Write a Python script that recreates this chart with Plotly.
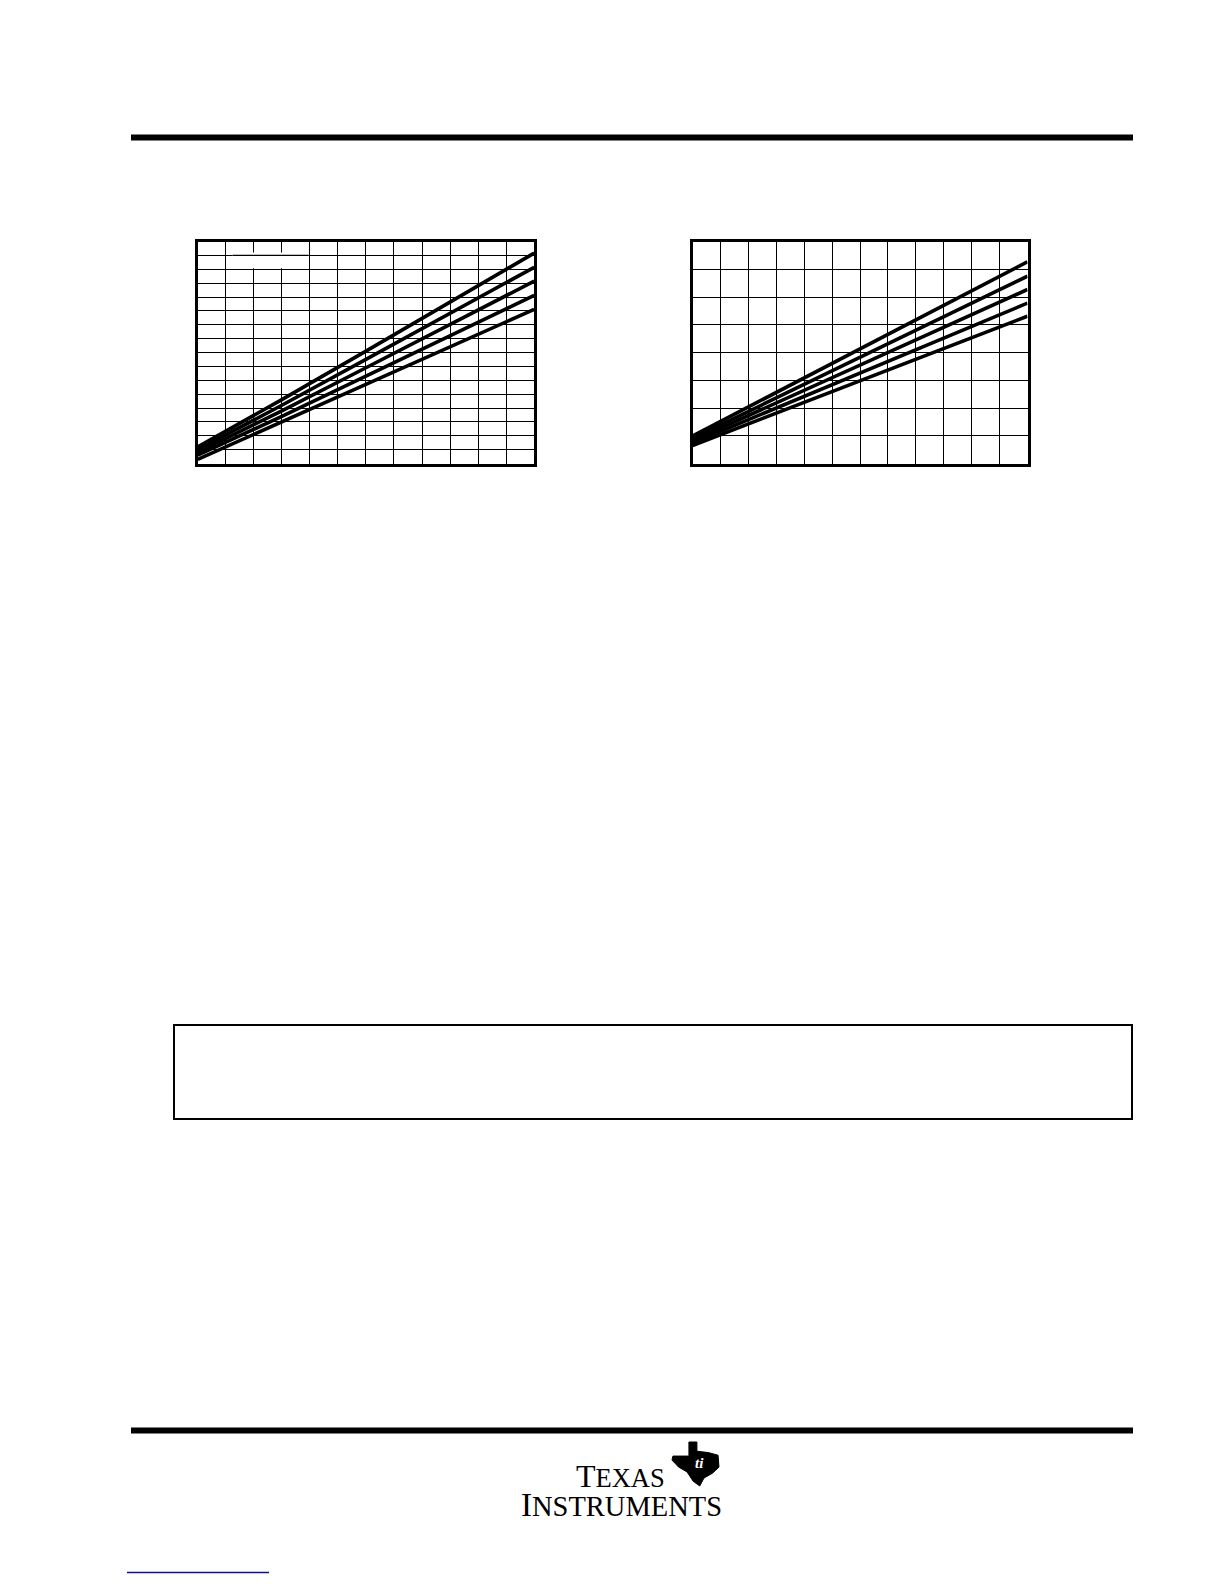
import plotly.graph_objects as go

# page offset: the browser places the figure 8px from the top-left corner
OFF = 8
W, H = 1224 - OFF, 1584 - OFF

# ---------------- data ----------------
x_pts = [0, 3, 6, 9, 12]

left_series = {
    "L1": [1.2, 4.6, 8.1, 11.6, 15.17],
    "L2": [1.0, 4.2, 7.5, 10.8, 14.14],
    "L3": [0.8, 3.8, 6.9, 10.0, 13.14],
    "L4": [0.6, 3.4, 6.3, 9.2, 12.11],
    "L5": [0.3, 3.0, 5.7, 8.4, 11.11],
}
right_series = {
    "R1": [0.99, 2.56, 4.13, 5.70, 7.27],
    "R2": [0.90, 2.37, 3.83, 5.29, 6.75],
    "R3": [0.82, 2.19, 3.55, 4.91, 6.27],
    "R4": [0.74, 2.00, 3.26, 4.52, 5.78],
    "R5": [0.65, 1.82, 2.98, 4.15, 5.31],
}
left_x_range = [0, 12]
left_y_range = [0, 16]
right_x_range = [0, 12]
right_y_range = [0, 8]


def px_x(p):
    return (p - OFF) / W


def px_y(p):
    return 1 - (p - OFF) / H


fig = go.Figure()

for name, ys in left_series.items():
    fig.add_trace(go.Scatter(x=x_pts, y=ys, mode="lines", name=name,
                             line=dict(color="black", width=3.6),
                             xaxis="x", yaxis="y", showlegend=False))
for name, ys in right_series.items():
    fig.add_trace(go.Scatter(x=x_pts, y=ys, mode="lines", name=name,
                             line=dict(color="black", width=3.6),
                             xaxis="x2", yaxis="y2", showlegend=False))

ax_common = dict(showline=True, mirror=True, linecolor="black", linewidth=3,
                 showgrid=True, gridcolor="black", gridwidth=1.3,
                 zeroline=False, showticklabels=False, ticks="",
                 dtick=1, tick0=0, fixedrange=True)

ytop, ybot = 241.5, 463.5
fig.update_layout(
    width=W, height=H,
    margin=dict(l=0, r=0, t=0, b=0),
    paper_bgcolor="white", plot_bgcolor="white",
    showlegend=False,
    xaxis=dict(domain=[px_x(197.7), px_x(534.2)], range=left_x_range,
               anchor="y", **ax_common),
    yaxis=dict(domain=[px_y(ybot), px_y(ytop)], range=left_y_range,
               anchor="x", **ax_common),
    xaxis2=dict(domain=[px_x(692.5), px_x(1027.5)], range=right_x_range,
                anchor="y2", **ax_common),
    yaxis2=dict(domain=[px_y(ybot), px_y(ytop)], range=right_y_range,
                anchor="x2", **ax_common),
)

shapes = []
# blank legend box inside left chart
shapes.append(dict(type="rect", xref="x", yref="y", x0=1.24, x1=3.96,
                   y0=14.08, y1=15.2, fillcolor="white",
                   line=dict(width=0), layer="above"))
shapes.append(dict(type="line", xref="x", yref="y", x0=1.24, x1=3.96,
                   y0=15, y1=15, line=dict(color="black", width=1.3),
                   layer="above"))


def prect(x0, y0, x1, y1, **kw):
    d = dict(type="rect", xref="paper", yref="paper",
             x0=px_x(x0), x1=px_x(x1), y0=px_y(y1), y1=px_y(y0))
    d.update(kw)
    return d


# header / footer bars
shapes.append(prect(131, 134.5, 1133, 140.5, fillcolor="black",
                    line=dict(width=0)))
shapes.append(prect(131, 1427.5, 1133, 1433.5, fillcolor="black",
                    line=dict(width=0)))
# empty notice box
shapes.append(prect(174, 1025, 1132, 1119, fillcolor="rgba(0,0,0,0)",
                    line=dict(color="black", width=2)))
# link underline
shapes.append(dict(type="line", xref="paper", yref="paper",
                   x0=px_x(127), x1=px_x(269), y0=px_y(1572.5),
                   y1=px_y(1572.5), line=dict(color="#10108a", width=1.5)))

# Texas-state silhouette for logo
outline = [(0.36, 0), (0.53, 0), (0.53, 0.21), (0.77, 0.24), (0.98, 0.30),
           (1.0, 0.57), (0.86, 0.71), (0.68, 0.82), (0.59, 1.0), (0.45, 0.89),
           (0.32, 0.68), (0.14, 0.57), (0.0, 0.41), (0.02, 0.32), (0.36, 0.32)]
bx0, bx1, by0, by1 = 672, 719, 1442, 1486
pts = [(px_x(bx0 + u * (bx1 - bx0)), px_y(by0 + v * (by1 - by0)))
       for u, v in outline]
path = "M " + " L ".join(f"{a:.5f},{b:.5f}" for a, b in pts) + " Z"
shapes.append(dict(type="path", xref="paper", yref="paper", path=path,
                   fillcolor="black", line=dict(color="black", width=1)))

fig.update_layout(shapes=shapes)

serif = "Liberation Serif, Times New Roman, serif"
annotations = [
    dict(x=px_x(574), y=px_y(1496), xref="paper", yref="paper",
         xanchor="left", yanchor="bottom", showarrow=False,
         text='<span style="font-size:32px">T</span>EXAS',
         font=dict(family=serif, size=26.5, color="black")),
    dict(x=px_x(519), y=px_y(1525), xref="paper", yref="paper",
         xanchor="left", yanchor="bottom", showarrow=False,
         text='<span style="font-size:33px">I</span>NSTRUMENTS',
         font=dict(family=serif, size=28.5, color="black")),
    dict(x=px_x(699), y=px_y(1463), xref="paper", yref="paper",
         xanchor="center", yanchor="middle", showarrow=False,
         text="<i><b>ti</b></i>",
         font=dict(family=serif, size=15, color="white")),
]
fig.update_layout(annotations=annotations)

fig.write_html("out.html")
